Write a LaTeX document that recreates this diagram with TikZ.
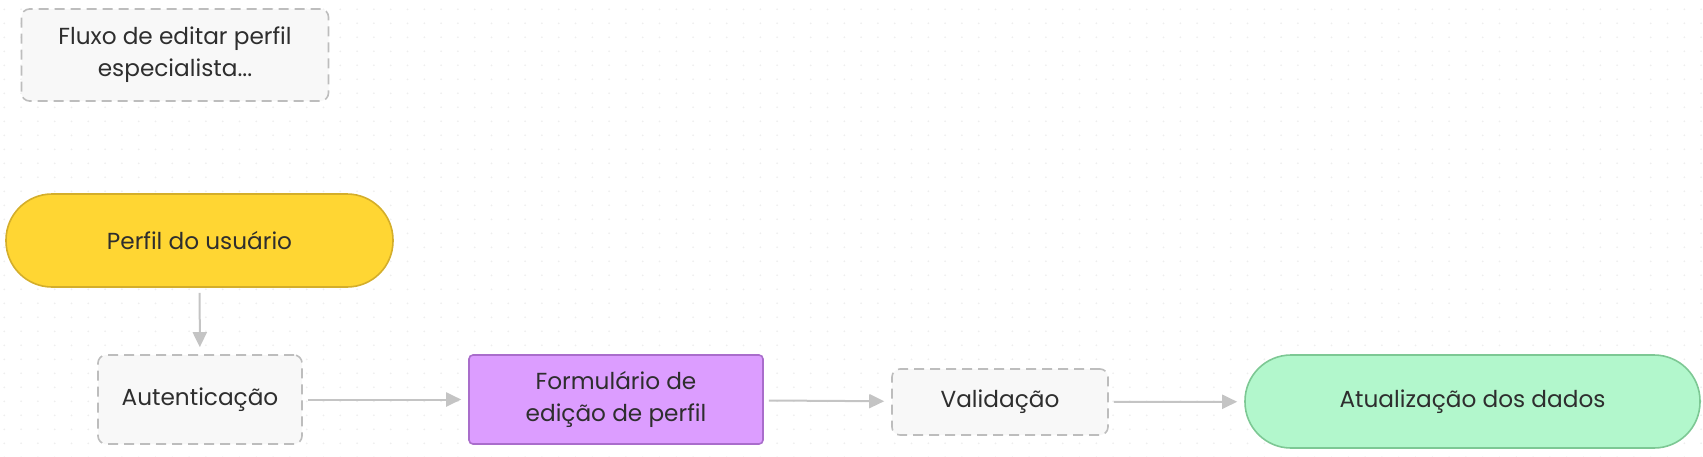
\documentclass[tikz,border=0pt]{standalone}
\usepackage{fontspec}
\setmainfont{Poppins}
\usepackage{tikz}
\usetikzlibrary{arrows.meta, positioning}

\definecolor{notefill}{HTML}{F8F8F8}
\definecolor{noteline}{HTML}{BDBDBD}
\definecolor{perfilfill}{HTML}{FFD633}
\definecolor{perfilline}{HTML}{D4AE2A}
\definecolor{formfill}{HTML}{DC9DFF}
\definecolor{formline}{HTML}{A96DCB}
\definecolor{dadosfill}{HTML}{B2F7CC}
\definecolor{dadosline}{HTML}{7DC894}
\definecolor{arrowgray}{HTML}{C4C4C4}
\definecolor{textgray}{HTML}{2E2E2E}
\definecolor{dotgray}{HTML}{EEEEEE}

\begin{document}
\begin{tikzpicture}[x=0.5pt, y=-0.5pt,
        every node/.style={font=\fontsize{11.6}{16}\selectfont, text=textgray, align=center, inner sep=0pt},
        dashbox/.style={draw=noteline, fill=notefill, dashed, dash pattern=on 5pt off 3pt, line width=0.8pt, rounded corners=4pt},
        pill/.style={line width=0.8pt, rounded corners=23pt},
        flow/.style={-{Triangle[length=7.5pt, width=7pt]}, draw=arrowgray, line width=1pt, shorten <=2.5pt, shorten >=3.5pt}]
        \useasboundingbox (0,0) rectangle (1703,456);

        % Dot grid
        \foreach \i in {0,...,101} {
            \foreach \j in {0,...,32} {
                \fill[dotgray] (4.3+16.8*\i, 9.3+14*\j) circle (0.5pt);
            }
        }

        % Note
        \node[dashbox, minimum width=153.5pt, minimum height=46pt] (note) at (175,55) {Fluxo de editar perfil\\especialista...};

        % Flow boxes
        \node[pill, draw=perfilline, fill=perfilfill, minimum width=193.5pt, minimum height=46.5pt] (perfil) at (199.5,240.5) {Perfil do usuário};
        \node[dashbox, minimum width=102pt, minimum height=44.5pt] (autent) at (200,399.5) {Autenticação};
        \node[draw=formline, fill=formfill, line width=0.8pt, rounded corners=2pt, minimum width=147pt, minimum height=44.5pt] (form) at (616,399.5) {Formulário de\\edição de perfil};
        \node[dashbox, minimum width=108pt, minimum height=33pt] (valid) at (1000,402) {Validação};
        \node[pill, draw=dadosline, fill=dadosfill, minimum width=227.5pt, minimum height=46.5pt] (dados) at (1472.5,401.5) {Atualização dos dados};

        % Connectors
        \draw[flow] (perfil) -- (autent);
        \draw[flow] (autent) -- (form);
        \draw[flow] (form) -- (valid);
        \draw[flow] (valid) -- (dados);
    \end{tikzpicture}
\end{document}
